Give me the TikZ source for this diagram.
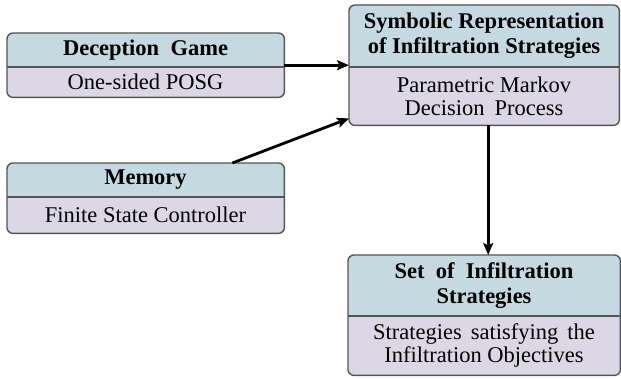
\documentclass[tikz,border=0pt]{standalone}
\usepackage{fontspec}
\setmainfont{Liberation Serif}
\usetikzlibrary{arrows.meta,calc}
\definecolor{headc}{RGB}{197,217,225}
\definecolor{bodyc}{RGB}{220,215,228}
\definecolor{edgec}{RGB}{85,85,85}
\tikzset{
  boxedge/.style={draw=edgec, line width=1.4pt, rounded corners=6pt},
  divline/.style={draw=edgec, line width=1.2pt},
  headtxt/.style={font=\fontsize{22.5}{25}\selectfont\rmfamily\bfseries, align=center, inner sep=0pt},
  bodytxt/.style={font=\fontsize{22.5}{23}\selectfont\rmfamily, align=center, inner sep=0pt},
  arr/.style={line width=2.8pt, -{Stealth[length=12pt,width=10pt,inset=2.5pt]}}
}
% name, L, T, R, D, B, header, body
\newcommand{\flowbox}[8]{%
  \fill[bodyc, rounded corners=6pt] (#2,#3) rectangle (#4,#6);
  \begin{scope}
    \clip (#2-2,#3-2) rectangle (#4+2,#5);
    \fill[headc, rounded corners=6pt] (#2,#3) rectangle (#4,#6);
  \end{scope}
  \node[inner sep=0pt, minimum width={(#4-#2)*1pt}, minimum height={(#6-#3)*1pt}, anchor=north west] (#1) at (#2,#3) {};
  \draw[divline] (#2,#5) -- (#4,#5);
  \draw[boxedge] (#1.north west) rectangle (#1.south east);
  \node[headtxt] (#1-h) at ({(#2+#4)/2},{(#3+#5)/2}) {#7};
  \node[bodytxt] (#1-b) at ({(#2+#4)/2},{(#5+#6)/2}) {#8};
}
\begin{document}
\begin{tikzpicture}[x=1pt,y=-1pt]
\useasboundingbox (0,0) rectangle (621,379);
\flowbox{game}{7}{33}{284}{67}{97}{Deception\ \ Game}{One-sided POSG}
\flowbox{sym}{349}{5}{619}{67}{125}{Symbolic Representation\\of Infiltration Strategies}{Parametric Markov\\Decision\hspace{10pt}Process}
\flowbox{mem}{7}{163}{284}{197}{233}{Memory}{Finite State Controller}
\flowbox{set}{348}{255}{620}{316}{375}{Set\ \ of\ \ Infiltration\\Strategies}{Strategies\hspace{9pt}satisfying\hspace{9pt}the\\Infiltration Objectives}
\draw[arr] (game) -- (sym);
\draw[arr] ([xshift=-52pt]mem.north east) -- ([yshift=7pt]sym.south west);
\draw[arr] ([xshift=4pt]sym.south) -- ([xshift=4pt]set.north);
\end{tikzpicture}
\end{document}
